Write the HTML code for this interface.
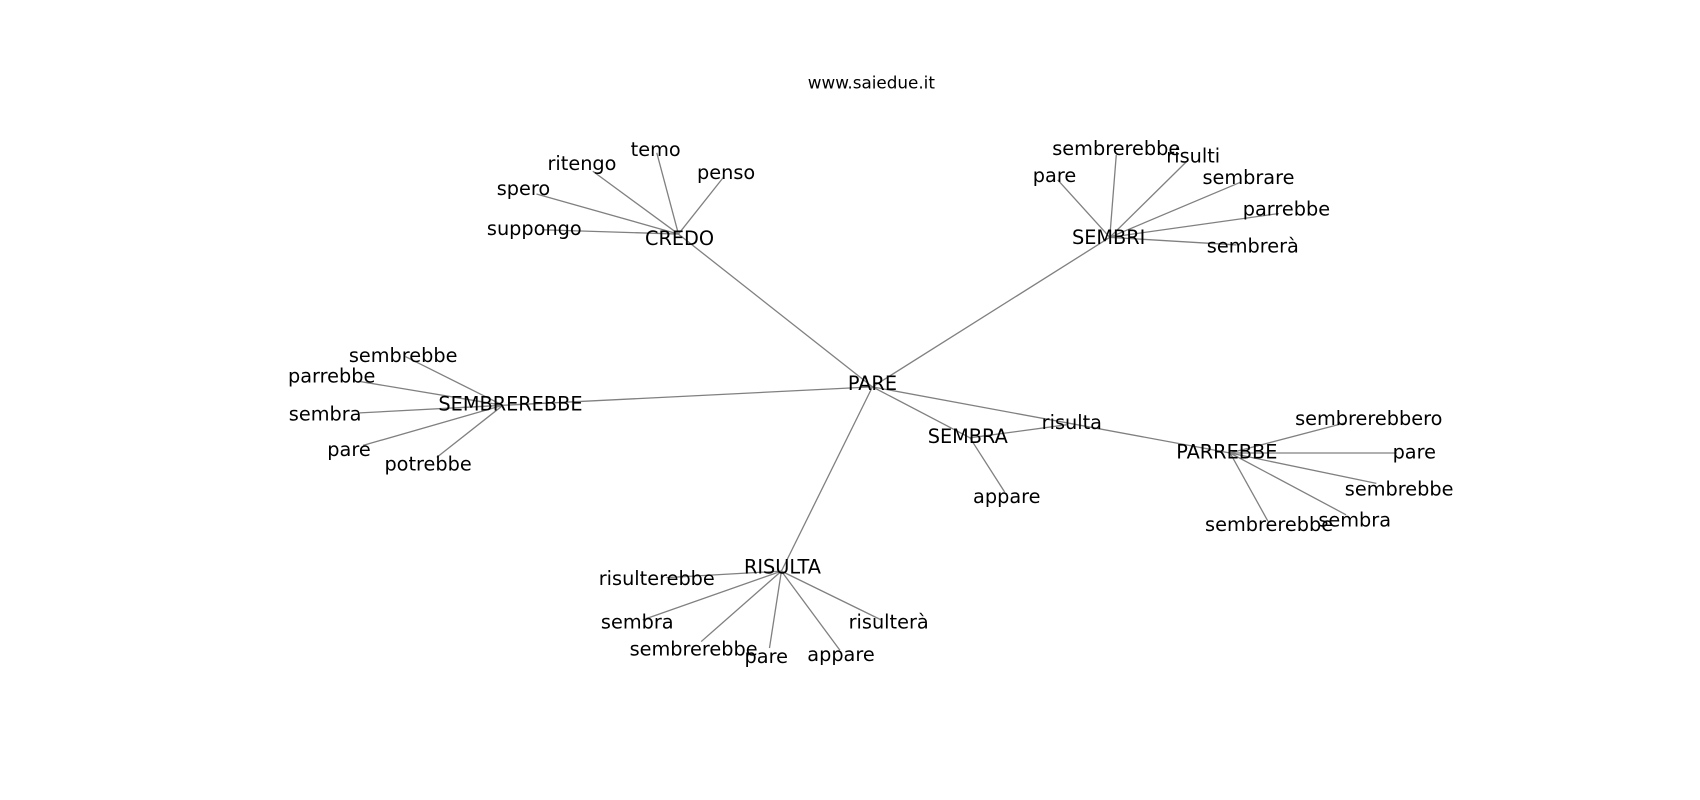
<!DOCTYPE html>
<html><head><meta charset="utf-8"><style>
html,body{margin:0;padding:0;background:#fff;}
svg{display:block;}
text{font-family:"DejaVu Sans","Liberation Sans",sans-serif;fill:#000;}
.l{font-size:17.8px;text-anchor:middle;dominant-baseline:central;}
line{stroke:#808080;stroke-width:1.2;}
</style></head><body>
<svg width="1700" height="800" viewBox="0 0 1568.6 738.2" xmlns="http://www.w3.org/2000/svg">
<text x="804" y="76" style="font-size:15.5px;text-anchor:middle;dominant-baseline:central">www.saiedue.it</text>
<g>
<line x1="805" y1="357" x2="626" y2="216"/>
<line x1="805" y1="357" x2="1024" y2="219"/>
<line x1="805" y1="357" x2="464" y2="374"/>
<line x1="805" y1="357" x2="895" y2="404"/>
<line x1="805" y1="357" x2="1135" y2="418"/>
<line x1="805" y1="357" x2="721" y2="527"/>
<line x1="895" y1="404" x2="984" y2="392"/>
<line x1="895" y1="404" x2="927" y2="454"/>
<line x1="626" y1="216" x2="547" y2="158"/>
<line x1="626" y1="216" x2="606" y2="141"/>
<line x1="626" y1="216" x2="668" y2="163"/>
<line x1="626" y1="216" x2="495" y2="179"/>
<line x1="626" y1="216" x2="500" y2="212"/>
<line x1="1024" y1="219" x2="976" y2="166"/>
<line x1="1024" y1="219" x2="1030" y2="143"/>
<line x1="1024" y1="219" x2="1096" y2="148"/>
<line x1="1024" y1="219" x2="1145" y2="168"/>
<line x1="1024" y1="219" x2="1180" y2="197"/>
<line x1="1024" y1="219" x2="1141" y2="226"/>
<line x1="464" y1="374" x2="374" y2="329"/>
<line x1="464" y1="374" x2="332" y2="352"/>
<line x1="464" y1="374" x2="332" y2="381"/>
<line x1="464" y1="374" x2="335" y2="411"/>
<line x1="464" y1="374" x2="403" y2="422"/>
<line x1="1135" y1="418" x2="1242" y2="390"/>
<line x1="1135" y1="418" x2="1289" y2="418"/>
<line x1="1135" y1="418" x2="1270" y2="446"/>
<line x1="1135" y1="418" x2="1242" y2="475"/>
<line x1="1135" y1="418" x2="1170" y2="481"/>
<line x1="721" y1="527" x2="615" y2="533"/>
<line x1="721" y1="527" x2="593" y2="572"/>
<line x1="721" y1="527" x2="647" y2="592"/>
<line x1="721" y1="527" x2="710" y2="598"/>
<line x1="721" y1="527" x2="775" y2="600"/>
<line x1="721" y1="527" x2="813" y2="572"/>
</g>
<g class="lbl">
<text class="l" x="805" y="354">PARE</text>
<text class="l" x="627" y="220">CREDO</text>
<text class="l" x="537" y="151">ritengo</text>
<text class="l" x="605" y="138">temo</text>
<text class="l" x="670" y="159">penso</text>
<text class="l" x="483" y="174">spero</text>
<text class="l" x="493" y="211">suppongo</text>
<text class="l" x="1023" y="219">SEMBRI</text>
<text class="l" x="1030" y="137">sembrerebbe</text>
<text class="l" x="1101" y="144">risulti</text>
<text class="l" x="973" y="162">pare</text>
<text class="l" x="1152" y="164">sembrare</text>
<text class="l" x="1187" y="193">parrebbe</text>
<text class="l" x="1156" y="227">sembrerà</text>
<text class="l" x="471" y="373">SEMBREREBBE</text>
<text class="l" x="372" y="328">sembrebbe</text>
<text class="l" x="306" y="347">parrebbe</text>
<text class="l" x="300" y="382">sembra</text>
<text class="l" x="322" y="415">pare</text>
<text class="l" x="395" y="428">potrebbe</text>
<text class="l" x="893" y="403">SEMBRA</text>
<text class="l" x="989" y="390">risulta</text>
<text class="l" x="929" y="458">appare</text>
<text class="l" x="1132" y="417">PARREBBE</text>
<text class="l" x="1263" y="386">sembrerebbero</text>
<text class="l" x="1305" y="417">pare</text>
<text class="l" x="1291" y="451">sembrebbe</text>
<text class="l" x="1250" y="480">sembra</text>
<text class="l" x="1171" y="484">sembrerebbe</text>
<text class="l" x="722" y="523">RISULTA</text>
<text class="l" x="606" y="534">risulterebbe</text>
<text class="l" x="588" y="574">sembra</text>
<text class="l" x="640" y="599">sembrerebbe</text>
<text class="l" x="707" y="606">pare</text>
<text class="l" x="776" y="604">appare</text>
<text class="l" x="820" y="574">risulterà</text>
</g>
</svg>
</body></html>
